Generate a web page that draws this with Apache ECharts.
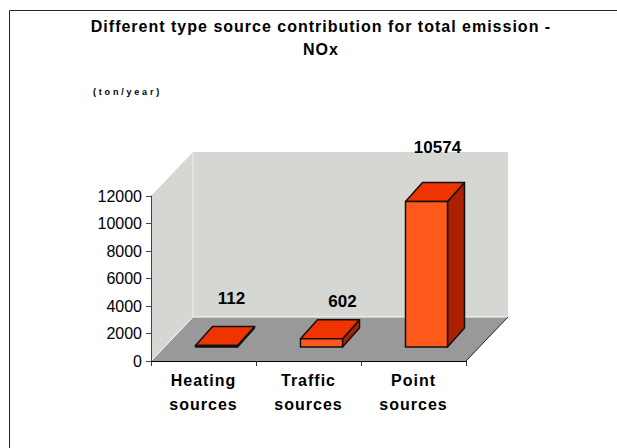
<!DOCTYPE html>
<html><head><meta charset="utf-8">
<style>html,body{margin:0;padding:0;background:#fff}#c{width:617px;height:448px}</style>
<script src="https://cdn.jsdelivr.net/npm/echarts@6/dist/echarts.min.js"></script>
</head><body><div id="c"></div>
<script>
const categories = ['Heating\nsources', 'Traffic\nsources', 'Point\nsources'];
const emissions = [112, 602, 10574];
const valueMin = 0, valueMax = 12000, valueStep = 2000;
const titleLines = 'Different type source contribution for total emission -\nNOx';
const unitLabel = '(ton/year)';

const FONT = '"Liberation Sans", Arial, sans-serif';
const C = {wall:'#d5d7d2', floor:'#999999', front:'#ff5a1c', top:'#f03400', side:'#aa2000', edge:'#111'};
const wallDX = 42, wallDY = 44, barDX = 17, barDY = 19, barShiftX = 13, barShiftY = 14, barW = 42;
const labelLift = [47, 37, 54];
const labelDX = [28, 34, 24];
const spacingBySize = {'16px':'1px', '9px':'2.8px'};

const poly = (pts, fill, stroke, lw) => ({type:'polygon', shape:{points:pts},
  style:{fill, stroke:stroke||'none', lineWidth:lw||0, lineJoin:'round'}});

function renderRoom(params, api){
  const g = params.coordSys, l=g.x, r=g.x+g.width, t=g.y, b=g.y+g.height;
  return {type:'group', children:[
    poly([[l,t],[l+wallDX,t-wallDY],[l+wallDX,b-wallDY],[l,b]], C.wall),
    poly([[l+wallDX,t-wallDY],[r+wallDX,t-wallDY],[r+wallDX,b-wallDY],[l+wallDX,b-wallDY]], C.wall),
    poly([[l,b],[l+wallDX,b-wallDY],[r+wallDX,b-wallDY],[r,b]], C.floor),
    {type:'polyline', shape:{points:[[l,b],[l+wallDX,b-wallDY],[r+wallDX,b-wallDY]]}, style:{stroke:'#fff',lineWidth:1,fill:'none'}},
    {type:'line', shape:{x1:l+wallDX,y1:t-wallDY,x2:l+wallDX,y2:b-wallDY}, style:{stroke:'#eceeea',lineWidth:1}},
    {type:'line', shape:{x1:r,y1:b,x2:r+wallDX,y2:b-wallDY}, style:{stroke:'#222',lineWidth:1}}
  ]};
}
function renderBar(params, api){
  const i = api.value(0), v = api.value(1);
  const base = api.coord([i, 0]), topP = api.coord([i, v]);
  const x0 = base[0] + barShiftX - barW/2, x1 = x0 + barW;
  const y0 = base[1] - barShiftY, y1 = topP[1] - barShiftY;
  return {type:'group', children:[
    poly([[x1,y0],[x1+barDX,y0-barDY],[x1+barDX,y1-barDY],[x1,y1]], C.side, C.edge, 1.5),
    poly([[x0,y1],[x0+barDX,y1-barDY],[x1+barDX,y1-barDY],[x1,y1]], C.top, C.edge, 1.5),
    poly([[x0,y0],[x1,y0],[x1,y1],[x0,y1]], C.front, C.edge, 1.5),
    {type:'text', style:{text:String(v), x:base[0]+labelDX[i], y:y1-labelLift[i], align:'center', verticalAlign:'middle',
      font:'bold 17px '+FONT, fill:'#000'}}
  ]};
}
const chart = echarts.init(document.getElementById('c'), null, {renderer:'svg'});
function spaceText(){
  document.querySelectorAll('#c svg text').forEach(t=>{
    const cs = getComputedStyle(t), sp = spacingBySize[cs.fontSize];
    if (sp && Number(cs.fontWeight) >= 600) t.setAttribute('letter-spacing', sp);
  });
}
chart.on('finished', spaceText);
chart.setOption({
  animation:false,
  backgroundColor:'#fff',
  graphic:[{type:'rect', shape:{x:9.5,y:10.5,width:700,height:600}, style:{fill:'none',stroke:'#222',lineWidth:1}, z:0}],
  title:[
    {text:titleLines, left:316, top:10, textAlign:'center',
     textStyle:{fontFamily:FONT,fontWeight:'bold',fontSize:16,lineHeight:23,color:'#000'}},
    {text:unitLabel, left:88, top:82, textStyle:{fontFamily:FONT,fontWeight:'bold',fontSize:9,color:'#000'}}
  ],
  grid:{left:151,right:151,top:196,bottom:87,containLabel:false},
  xAxis:{type:'category',data:categories,z:5,
    axisLine:{lineStyle:{color:'#000',width:1}},
    axisTick:{show:true,length:5,alignWithLabel:false,lineStyle:{color:'#333'}},
    axisLabel:{fontFamily:FONT,fontWeight:'bold',fontSize:16,lineHeight:24,color:'#000',margin:7,interval:0},
    splitLine:{show:false}},
  yAxis:{type:'value',min:valueMin,max:valueMax,interval:valueStep,z:5,
    axisLine:{show:true,lineStyle:{color:'#444',width:1}},
    axisTick:{show:true,length:5,lineStyle:{color:'#444'}},
    axisLabel:{fontFamily:FONT,fontSize:16,color:'#000',margin:9,formatter:v=>String(v)},
    splitLine:{show:false}},
  series:[
    {type:'custom',coordinateSystem:'cartesian2d',renderItem:renderRoom,data:[[0,0]],z:1,silent:true},
    {type:'custom',coordinateSystem:'cartesian2d',renderItem:renderBar,
     data:emissions.map((v,i)=>[i,v]),encode:{x:0,y:1},z:2}
  ]
});
spaceText();
</script></body></html>
